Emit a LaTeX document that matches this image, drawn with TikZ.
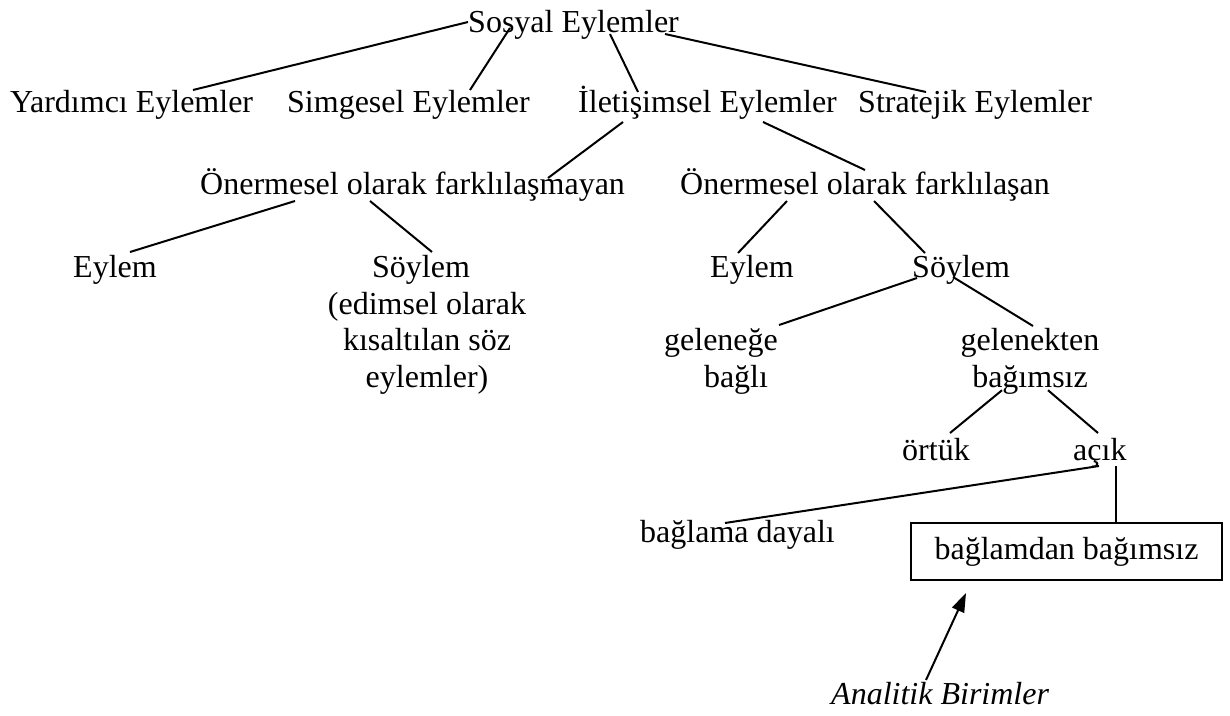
\documentclass[tikz,border=0pt]{standalone}
\usepackage{fontspec}
\setmainfont{Liberation Serif}
\usetikzlibrary{calc,arrows.meta}

\begin{document}
\begin{tikzpicture}[x=1pt,y=-1pt,
  txt/.style={inner sep=0pt,anchor=base west,font=\fontsize{32}{36.7}\selectfont},
  stack/.style={inner sep=0pt,anchor=north,align=center,font=\fontsize{32}{36.7}\selectfont},
  framed/.style={draw,line width=2pt,inner sep=0pt,minimum width=311pt,minimum height=57pt,font=\fontsize{32}{36.7}\selectfont},
  edge/.style={line width=2pt},
  pointer/.style={line width=2pt,-{Triangle[length=19pt,width=13pt]}}
]
\fill[white] (0,0) rectangle (1230,715);
\useasboundingbox (0,0) rectangle (1230,715);

% top level
\node[txt] (soy) at (468,32) {Sosyal Eylemler};

% second level
\node[txt] (yard)  at (10,112)  {Yardımcı Eylemler};
\node[txt] (simg)  at (287,112) {Simgesel Eylemler};
\node[txt] (ilet)  at (578,112) {İletişimsel Eylemler};
\node[txt] (strat) at (858,112) {Stratejik Eylemler};

% third level
\node[txt] (fmay) at (200,194) {Önermesel olarak farklılaşmayan};
\node[txt] (fsan) at (680,194) {Önermesel olarak farklılaşan};

% fourth level
\node[txt] (eyL) at (73,277) {Eylem};
\node[stack] (soyL) at (427,255) {Söylem\hspace*{12pt}\\(edimsel olarak\\kısaltılan söz\\eylemler)};
\node[txt] (eyR) at (710,277) {Eylem};
\node[txt] (soyR) at (912,277) {Söylem};

% fifth level
\node[stack] (gelL) at (721,328) {geleneğe\\\hspace*{30pt}bağlı};
\node[stack] (gelR) at (1030,328) {gelenekten\\bağımsız};

% sixth level
\node[txt] (ortuk) at (902,460) {örtük};
\node[txt] (acik) at (1073,460) {açık};

% last level
\node[txt] (dayali) at (640,542) {bağlama dayalı};
\node[framed] (bagimsiz) at (1066.5,551.5) {bağlamdan bağımsız};
\node[txt,font=\fontsize{32}{36.7}\selectfont\itshape] (anal) at (831,704) {Analitik Birimler};

% tree branches
\draw[edge] ($(soy.base west)+(0,-10)$) -- ($(yard.base west)+(183,-22)$);
\draw[edge] ($(soy.base west)+(42,-4)$) -- ($(simg.base west)+(183,-22)$);
\draw[edge] ($(soy.base west)+(142,2)$) -- ($(ilet.base west)+(60,-20)$);
\draw[edge] ($(soy.base west)+(197,2)$) -- ($(strat.base west)+(68,-20)$);

\draw[edge] ($(ilet.base west)+(45,10)$) -- ($(fmay.base west)+(348,-16)$);
\draw[edge] ($(ilet.base west)+(185,10)$) -- ($(fsan.base west)+(185,-24)$);

\draw[edge] ($(fmay.base west)+(95,7)$) -- ($(eyL.base west)+(57,-25)$);
\draw[edge] ($(fmay.base west)+(170,7)$) -- ($(soyL.north)+(5,-3)$);
\draw[edge] ($(fsan.base west)+(107,7)$) -- ($(eyR.base west)+(28,-24)$);
\draw[edge] ($(fsan.base west)+(194,7)$) -- ($(soyR.base west)+(13,-24)$);

\draw[edge] ($(soyR.base west)+(5,1)$) -- ($(gelL.north east)+(1,-3)$);
\draw[edge] ($(soyR.base west)+(41,0)$) -- ($(gelR.north)+(3,-2)$);

\draw[edge] ($(gelR.south)+(-28,-4)$) -- ($(ortuk.base west)+(48,-27)$);
\draw[edge] ($(gelR.south)+(18,-4)$) -- ($(acik.base west)+(25,-27)$);

\draw[edge] ($(acik.base west)+(26,6)$) -- ($(dayali.base west)+(85,-19)$);
\draw[edge] ($(acik.base west)+(43,6)$) -- ($(bagimsiz.north)+(49.5,0)$);

% pointer to the framed unit
\draw[pointer] ($(anal.base west)+(95,-24)$) -- ($(bagimsiz.south)+(-100.5,12)$);
\end{tikzpicture}
\end{document}
